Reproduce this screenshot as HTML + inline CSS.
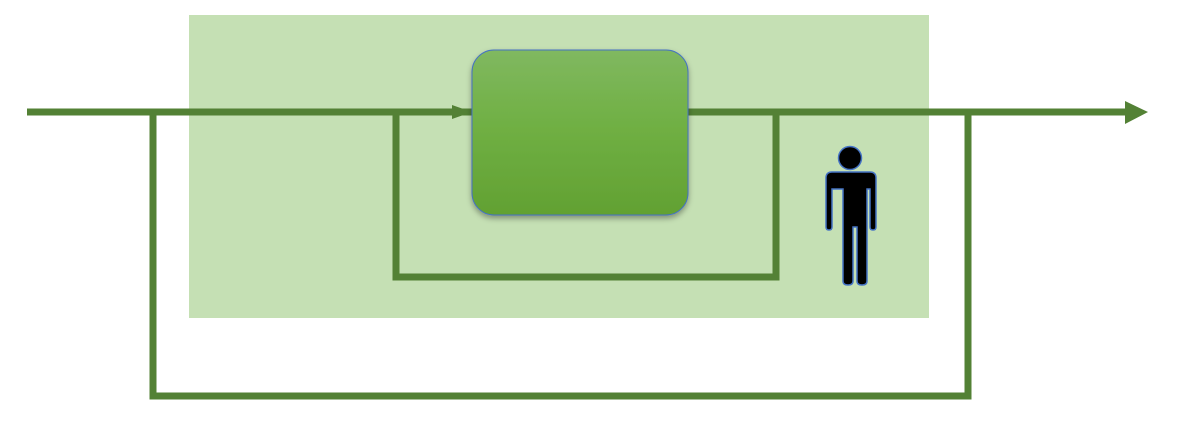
<!DOCTYPE html>
<html><head><style>html,body{margin:0;padding:0;background:#fff}</style></head>
<body>
<svg width="1192" height="443" viewBox="0 0 1192 443" xmlns="http://www.w3.org/2000/svg">
<defs>
<linearGradient id="g" x1="0" y1="0" x2="0" y2="1">
<stop offset="0" stop-color="#80b860"/><stop offset="0.45" stop-color="#70b044"/><stop offset="1" stop-color="#62a132"/>
</linearGradient>
<filter id="s" x="-10%" y="-10%" width="120%" height="130%"><feDropShadow dx="0" dy="3" stdDeviation="3" flood-opacity="0.35"/></filter>
</defs>
<rect x="189" y="15" width="740" height="303" fill="#c5e0b4"/>
<g fill="none" stroke="#538135" stroke-width="7">
<line x1="27" y1="112" x2="1128" y2="112"/>
<polyline points="153,112 153,396 968,396 968,112"/>
<polyline points="396,112 396,277 776,277 776,112"/>
</g>
<polygon points="1125,101 1148,112 1125,124" fill="#538135"/>
<polygon points="452,105 472,112 452,119" fill="#538135"/>
<rect x="472" y="50" width="216" height="165" rx="22" fill="url(#g)" stroke="#4472c4" stroke-width="1" filter="url(#s)"/>
<g fill="#000" stroke="#4472c4" stroke-width="1.5">
<circle cx="850" cy="158" r="11.5"/>
<path d="M832,172 H870 Q876,172 876,178 V227 Q876,230 873,230 Q870,230 870,227 V189 H867 V281 Q867,285 862,285 Q857,285 857,281 V227 H853 V281 Q853,285 848,285 Q843,285 843,281 V189 H832 V227 Q832,230 829,230 Q826,230 826,227 V178 Q826,172 832,172 Z"/>
</g>
</svg>
</body></html>
